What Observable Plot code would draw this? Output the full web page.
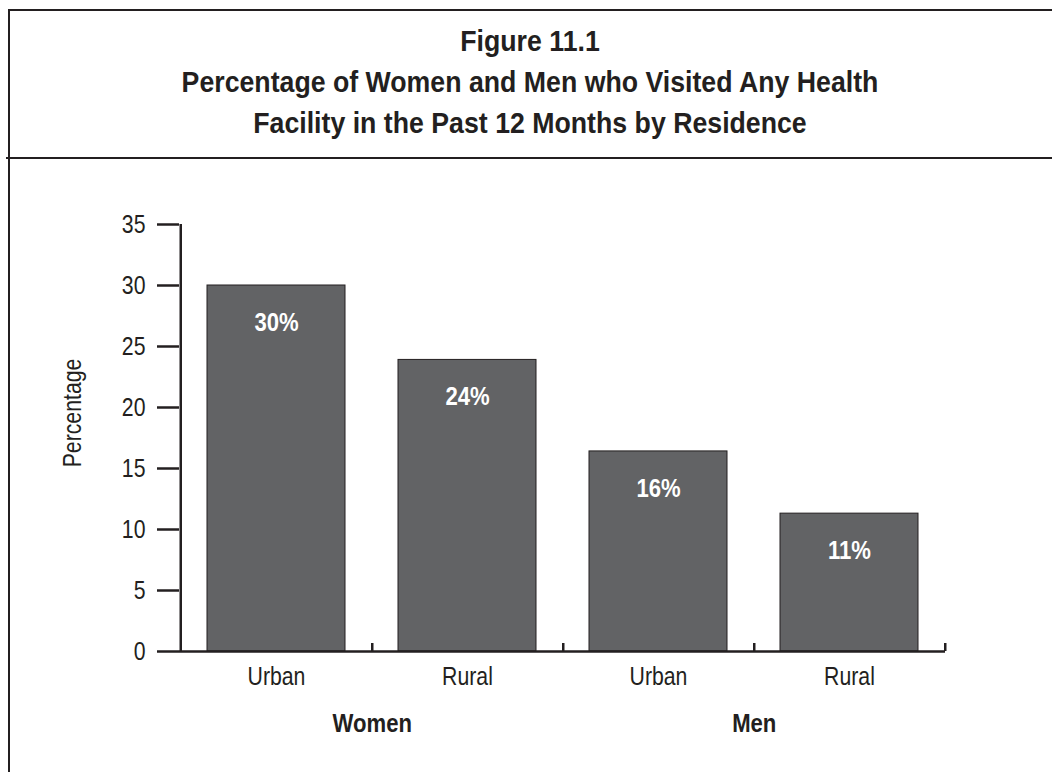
<!DOCTYPE html>
<html><head><meta charset="utf-8">
<script src="https://cdn.jsdelivr.net/npm/d3@7"></script>
<script src="https://cdn.jsdelivr.net/npm/@observablehq/plot@0.6"></script>
<style>
body{margin:0;background:#fff;}
#wrap{position:relative;width:1052px;height:772px;overflow:hidden;font-family:"Liberation Sans",Arial,sans-serif;color:#231f20;background:#fff;}
.line{position:absolute;background:#231f20;}
#title{position:absolute;left:8px;right:0;top:20px;text-align:center;font-weight:bold;font-size:30px;line-height:41px;transform:scaleX(0.89);transform-origin:center;}
#chart{position:absolute;left:0;top:160px;}
</style></head><body>
<div id="wrap">
 <div class="line" style="left:8px;top:9px;width:1044px;height:2px"></div>
 <div class="line" style="left:8px;top:9px;width:2px;height:763px"></div>
 <div class="line" style="left:6px;top:157px;width:1046px;height:2px"></div>
 <div id="title">Figure 11.1<br>Percentage of Women and Men who Visited Any Health<br>Facility in the Past 12 Months by Residence</div>
 <div id="chart"></div>
</div>
<script>
const categories = ["Women-Urban", "Women-Rural", "Men-Urban", "Men-Rural"];
const residence = ["Urban", "Rural", "Urban", "Rural"];
const groups = ["Women", "Men"];
const groupFirst = ["Women-Urban", "Men-Urban"];
const values = [30.0, 23.9, 16.4, 11.3];
const valueLabels = ["30%", "24%", "16%", "11%"];
const yTicks = [0, 5, 10, 15, 20, 25, 30, 35];
const yLabel = "Percentage";

const data = categories.map((c, i) => ({cat: c, value: values[i], label: valueLabels[i]}));
const groupData = groups.map((g, i) => ({group: g, cat: groupFirst[i]}));

const W = 1052, H = 612, mL = 179, mR = 107, mT = 64, mB = 121;
const step = (W - mL - mR) / categories.length;
const ink = "#231f20";
const font = '"Liberation Sans",Arial,sans-serif';

const chart = Plot.plot({
  width: W, height: H,
  marginLeft: mL, marginRight: mR, marginTop: mT, marginBottom: mB,
  style: {fontFamily: font, fontSize: "25px", color: ink, background: "transparent"},
  x: {domain: categories, paddingInner: 0.28, paddingOuter: 0.14},
  y: {domain: [0, 35]},
  marks: [
    Plot.barY(data, {x: "cat", y: "value", fill: "#626365", stroke: ink, strokeWidth: 1}),
    Plot.ruleY([0], {stroke: ink, strokeWidth: 2.5}),
    Plot.ruleX([categories[0]], {dx: -step / 2, stroke: ink, strokeWidth: 2.5}),
    Plot.ruleX(categories, {x: d => d, y1: 0, y2: 0, insetTop: -8, dx: step / 2, stroke: ink, strokeWidth: 2.5}),
    Plot.axisY({ticks: yTicks, tickSize: 22, tickPadding: 12, strokeWidth: 2.5, label: null, fontSize: 25}),
    Plot.axisX({tickSize: 0, tickPadding: 16, label: null, fontSize: 25,
      tickFormat: d => residence[categories.indexOf(d)]}),
    Plot.text(data, {x: "cat", y: "value", text: "label", dy: 37, fill: "white",
      fontWeight: "bold", fontSize: 26, lineAnchor: "middle"}),
    Plot.text(groupData, {x: "cat", text: "group", frameAnchor: "bottom", dx: step / 2, dy: 72,
      fontWeight: "bold", fontSize: 26, lineAnchor: "middle", fill: ink}),
    Plot.text([yLabel], {frameAnchor: "left", rotate: -90, dx: -107, dy: -25, fontSize: 25,
      textAnchor: "middle", lineAnchor: "middle", fill: ink})
  ]
});
document.getElementById("chart").appendChild(chart);

// condensed look: narrow each SVG label horizontally (Arial Narrow style)
const narrow = 0.85;
chart.querySelectorAll("text").forEach(t => {
  const len = t.getComputedTextLength();
  if (len > 0) {
    t.setAttribute("textLength", (len * narrow).toFixed(2));
    t.setAttribute("lengthAdjust", "spacingAndGlyphs");
  }
});
</script>
</body></html>
